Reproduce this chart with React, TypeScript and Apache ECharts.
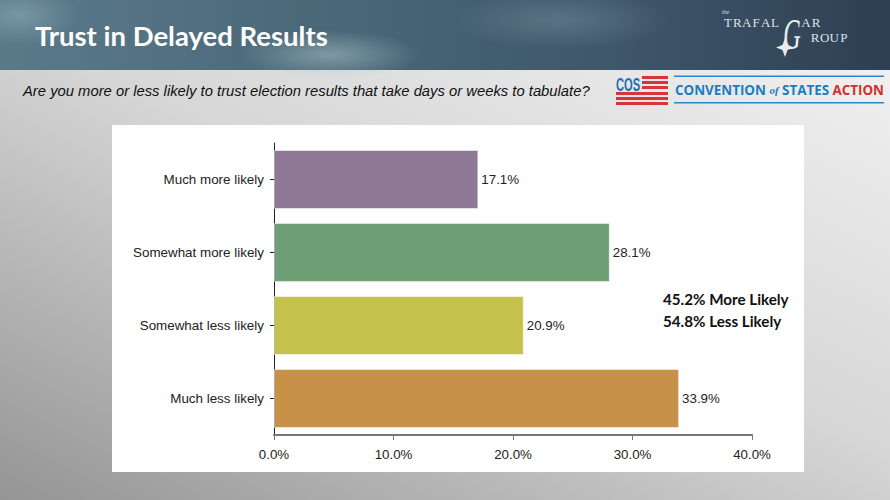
import React, { useEffect, useRef } from "react";
import * as echarts from "echarts";

const categories = ["Much more likely", "Somewhat more likely", "Somewhat less likely", "Much less likely"];
const values = [17.1, 28.1, 20.9, 33.9];
const barColors = ["#8f7896", "#6f9f74", "#c4c24c", "#c7914a"];
const xTicks = { min: 0, max: 40, interval: 10 };
const title = "Trust in Delayed Results";
const question = "Are you more or less likely to trust election results that take days or weeks to tabulate?";
const summary = ["45.2% More Likely", "54.8% Less Likely"];

export default function App() {
  const ref = useRef<HTMLDivElement>(null);
  useEffect(() => {
    if (!ref.current) return;
    const chart = echarts.init(ref.current, undefined, { renderer: "svg" });
    const sans = "'Liberation Sans', Arial, sans-serif";
    const serif = "'Liberation Serif', 'DejaVu Serif', serif";

    const trafLetters: any[] = [];
    const addLetters = (s: string, x0: number, y: number, step: number, size: number) => {
      s.split("").forEach((ch, i) => {
        trafLetters.push({
          type: "text",
          z: 20,
          style: { text: ch, x: x0 + i * step, y, font: `${size}px ${serif}`, fill: "#dfe3e6", textAlign: "center", textVerticalAlign: "middle" },
        });
      });
    };
    addLetters("TRAFAL", 728, 22, 9.4, 13);
    addLetters("AR", 806, 22, 10, 13);
    addLetters("ROUP", 815, 37, 9.6, 13);

    const stripes: any[] = [];
    [76, 81, 86].forEach((y) => stripes.push({ type: "rect", z: 20, shape: { x: 642, y, width: 26, height: 3 }, style: { fill: "#d8343c" } }));
    [92, 97, 102].forEach((y) => stripes.push({ type: "rect", z: 20, shape: { x: 616, y, width: 52, height: 3 }, style: { fill: "#d8343c" } }));

    chart.setOption({
      animation: false,
      graphic: [
        {
          type: "rect", z: -100, silent: true,
          shape: { x: 0, y: 70, width: 890, height: 430 },
          style: {
            fill: new echarts.graphic.LinearGradient(0, 1, 1, 0, [
              { offset: 0, color: "#959595" },
              { offset: 0.55, color: "#d6d6d6" },
              { offset: 1, color: "#f0f0f0" },
            ]),
          },
        },
        {
          type: "rect", z: -100, silent: true,
          shape: { x: 0, y: 0, width: 890, height: 70 },
          style: {
            fill: new echarts.graphic.LinearGradient(0, 0, 1, 0, [
              { offset: 0, color: "#5a7a8a" },
              { offset: 0.35, color: "#4b6879" },
              { offset: 0.7, color: "#3e566a" },
              { offset: 1, color: "#2e3f53" },
            ]),
          },
        },
        {
          type: "ellipse", z: -99, silent: true,
          shape: { cx: 330, cy: 55, rx: 90, ry: 25 },
          style: {
            fill: new echarts.graphic.RadialGradient(0.5, 0.5, 0.5, [
              { offset: 0, color: "rgba(170,195,200,0.55)" },
              { offset: 1, color: "rgba(170,195,200,0)" },
            ]),
          },
        },
        {
          type: "ellipse", z: -99, silent: true,
          shape: { cx: 20, cy: 15, rx: 60, ry: 30 },
          style: {
            fill: new echarts.graphic.RadialGradient(0.5, 0.5, 0.5, [
              { offset: 0, color: "rgba(150,180,190,0.5)" },
              { offset: 1, color: "rgba(150,180,190,0)" },
            ]),
          },
        },
        {
          type: "ellipse", z: -99, silent: true,
          shape: { cx: 560, cy: 20, rx: 110, ry: 30 },
          style: {
            fill: new echarts.graphic.RadialGradient(0.5, 0.5, 0.5, [
              { offset: 0, color: "rgba(120,145,160,0.45)" },
              { offset: 1, color: "rgba(120,145,160,0)" },
            ]),
          },
        },
        {
          type: "rect", z: -90, silent: true,
          shape: { x: 112, y: 125, width: 692, height: 347 },
          style: { fill: "#ffffff" },
        },
        {
          type: "text", z: 20,
          style: {
            text: title, x: 35, y: 35, font: `bold 27.5px Lato, 'Open Sans', sans-serif`, fill: "#ffffff",
            textVerticalAlign: "middle", shadowColor: "rgba(0,0,0,0.55)", shadowBlur: 3, shadowOffsetX: 1, shadowOffsetY: 1,
          },
        },
        {
          type: "text", z: 20,
          style: { text: question, x: 23, y: 91, font: `italic 14.8px ${sans}`, fill: "#111111", textVerticalAlign: "middle" },
        },
        {
          type: "text", z: 20,
          style: { text: "the", x: 722, y: 12, font: `italic 6px ${serif}`, fill: "#dfe3e6", textVerticalAlign: "middle" },
        },
        ...trafLetters,
        {
          type: "text", z: 20, x: 792, y: 34, scaleX: 0.55,
          style: { text: "G", x: 0, y: 0, font: `italic 44px ${serif}`, fill: "#e8ecee", textAlign: "center", textVerticalAlign: "middle" },
        },
        {
          type: "polygon", z: 20,
          shape: { points: [[785, 38], [787.5, 45], [794, 47.5], [787.5, 50], [785, 57], [782.5, 50], [776, 47.5], [782.5, 45]] },
          style: { fill: "#e8ecee" },
        },
        {
          type: "text", z: 21, x: 616, y: 84, scaleX: 0.62,
          style: { text: "COS", x: 0, y: 0, font: `bold 18px ${sans}`, fill: "#1c6fb8", textVerticalAlign: "middle" },
        },
        ...stripes,
        { type: "rect", z: 20, shape: { x: 674, y: 75.5, width: 210, height: 1.5 }, style: { fill: "#2a86c8" } },
        { type: "rect", z: 20, shape: { x: 674, y: 102, width: 210, height: 1.5 }, style: { fill: "#2a86c8" } },
        {
          type: "text", z: 21,
          style: {
            text: "{b|CONVENTION }{i|of}{b| STATES }{r|ACTION}", x: 675, y: 90, textVerticalAlign: "middle",
            rich: {
              b: { font: `bold 13.4px 'Open Sans', ${sans}`, fill: "#1c7dc1" },
              i: { font: `italic bold 11px ${serif}`, fill: "#1c7dc1" },
              r: { font: `bold 13.4px 'Open Sans', ${sans}`, fill: "#d32f2f" },
            },
          },
        },
        ...summary.map((t, i) => ({
          type: "text", z: 20,
          style: { text: t, x: 663, y: 299 + i * 22, font: `bold 15.2px Lato, 'Open Sans', sans-serif`, fill: "#111111", textVerticalAlign: "middle" },
        })),
      ],
      grid: { left: 274, right: 138, top: 143, bottom: 65, containLabel: false },
      xAxis: {
        type: "value",
        min: xTicks.min,
        max: xTicks.max,
        interval: xTicks.interval,
        splitLine: { show: false },
        axisLine: { show: true, lineStyle: { color: "#777777", width: 2 } },
        axisTick: { show: true, length: 5, lineStyle: { color: "#777777", width: 1 } },
        axisLabel: {
          margin: 13, fontSize: 13.3, fontFamily: sans, color: "#222222",
          formatter: (v: number) => `${v.toFixed(1)}%`,
        },
      },
      yAxis: {
        type: "category",
        data: categories,
        inverse: true,
        axisLine: { show: true, lineStyle: { color: "#222222", width: 1 } },
        axisTick: { show: true, length: 4, alignWithLabel: true, lineStyle: { color: "#222222" } },
        axisLabel: { margin: 10, fontSize: 13.4, fontFamily: sans, color: "#222222" },
      },
      series: [
        {
          type: "bar",
          data: values.map((v, i) => ({ value: v, itemStyle: { color: barColors[i] } })),
          barWidth: 59,
          itemStyle: { borderColor: "rgba(255,255,255,0.5)", borderWidth: 1 },
          label: {
            show: true, position: "right", distance: 3, fontSize: 13.3, fontFamily: sans, color: "#222222",
            formatter: (p: any) => `${Number(p.value).toFixed(1)}%`,
          },
        },
      ],
    });
    return () => chart.dispose();
  }, []);
  return <div ref={ref} style={{ position: "absolute", left: 0, top: 0, width: 890, height: 500 }} />;
}
